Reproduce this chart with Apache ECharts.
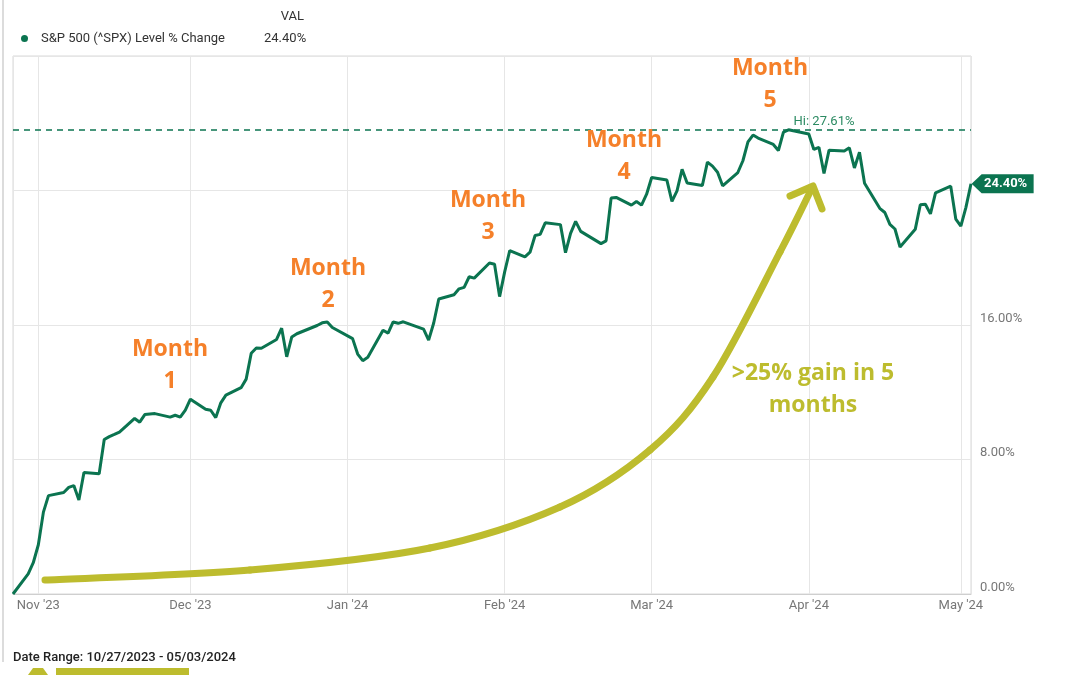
<!DOCTYPE html>
<html>
<head>
<meta charset="utf-8">
<script src="https://cdn.jsdelivr.net/npm/echarts@6/dist/echarts.min.js"></script>
<style>
  html, body { margin: 0; padding: 0; background: #fff; }
  #chart { width: 1080px; height: 675px; }
</style>
</head>
<body>
<div id="chart"></div>
<script>
// trading days, 10/27/2023 - 05/03/2024
const tradeDates = [
  "2023-10-27", "2023-10-30", "2023-10-31",
  "2023-11-01", "2023-11-02", "2023-11-03", "2023-11-06", "2023-11-07", "2023-11-08", "2023-11-09", "2023-11-10",
  "2023-11-13", "2023-11-14", "2023-11-15", "2023-11-16", "2023-11-17", "2023-11-20", "2023-11-21", "2023-11-22",
  "2023-11-24", "2023-11-27", "2023-11-28", "2023-11-29", "2023-11-30",
  "2023-12-01", "2023-12-04", "2023-12-05", "2023-12-06", "2023-12-07", "2023-12-08", "2023-12-11", "2023-12-12",
  "2023-12-13", "2023-12-14", "2023-12-15", "2023-12-18", "2023-12-19", "2023-12-20", "2023-12-21", "2023-12-22",
  "2023-12-26", "2023-12-27", "2023-12-28", "2023-12-29",
  "2024-01-02", "2024-01-03", "2024-01-04", "2024-01-05", "2024-01-08", "2024-01-09", "2024-01-10", "2024-01-11",
  "2024-01-12", "2024-01-16", "2024-01-17", "2024-01-18", "2024-01-19", "2024-01-22", "2024-01-23", "2024-01-24",
  "2024-01-25", "2024-01-26", "2024-01-29", "2024-01-30", "2024-01-31",
  "2024-02-01", "2024-02-02", "2024-02-05", "2024-02-06", "2024-02-07", "2024-02-08", "2024-02-09", "2024-02-12",
  "2024-02-13", "2024-02-14", "2024-02-15", "2024-02-16", "2024-02-20", "2024-02-21", "2024-02-22", "2024-02-23",
  "2024-02-26", "2024-02-27", "2024-02-28", "2024-02-29",
  "2024-03-01", "2024-03-04", "2024-03-05", "2024-03-06", "2024-03-07", "2024-03-08", "2024-03-11", "2024-03-12",
  "2024-03-13", "2024-03-14", "2024-03-15", "2024-03-18", "2024-03-19", "2024-03-20", "2024-03-21", "2024-03-22",
  "2024-03-25", "2024-03-26", "2024-03-27", "2024-03-28",
  "2024-04-01", "2024-04-02", "2024-04-03", "2024-04-04", "2024-04-05", "2024-04-08", "2024-04-09", "2024-04-10",
  "2024-04-11", "2024-04-12", "2024-04-15", "2024-04-16", "2024-04-17", "2024-04-18", "2024-04-19", "2024-04-22",
  "2024-04-23", "2024-04-24", "2024-04-25", "2024-04-26", "2024-04-29", "2024-04-30",
  "2024-05-01", "2024-05-02", "2024-05-03"
];

// S&P 500 level % change since 10/27/2023
const pctChange = [
  0, 1.20, 1.86,
  2.93, 4.87, 5.85, 6.04, 6.34, 6.45, 5.59, 7.23,
  7.15, 9.19, 9.36, 9.49, 9.63, 10.44, 10.22, 10.67,
  10.73, 10.52, 10.63, 10.52, 10.94,
  11.59, 10.99, 10.93, 10.49, 11.37, 11.83, 12.27, 12.78,
  14.32, 14.63, 14.62, 15.14, 15.81, 14.11, 15.29, 15.48,
  15.97, 16.13, 16.18, 15.85,
  15.19, 14.27, 13.88, 14.08, 15.69, 15.52, 16.18, 16.10,
  16.19, 15.75, 15.10, 16.12, 17.55, 17.80, 18.15, 18.24,
  18.87, 18.79, 19.69, 19.61, 17.69,
  19.16, 20.43, 20.05, 20.33, 21.32, 21.39, 22.08, 21.97,
  20.30, 21.45, 22.16, 21.57, 20.84, 21.00, 23.55, 23.59,
  23.13, 23.34, 23.13, 23.78,
  24.77, 24.62, 23.35, 23.98, 25.26, 24.44, 24.30, 25.69,
  25.45, 25.09, 24.28, 25.07, 25.77, 26.89, 27.30, 27.12,
  26.74, 26.38, 27.47, 27.61,
  27.36, 26.44, 26.57, 25.01, 26.40, 26.35, 26.54, 25.34,
  26.27, 24.43, 22.94, 22.69, 21.98, 21.71, 20.64, 21.69,
  23.15, 23.18, 22.61, 23.86, 24.26, 22.30,
  21.88, 23.00, 24.40
];

const yTicks = [0, 8, 16, 24, 32];
const monthAbbr = ["Jan", "Feb", "Mar", "Apr", "May", "Jun", "Jul", "Aug", "Sep", "Oct", "Nov", "Dec"];

const seriesName = "S&P 500 (^SPX) Level % Change";
const green = "#0b7450";
const orange = "#f5802a";
const olive = "#bdbc2e";
const lastVal = pctChange[pctChange.length - 1];

const chart = echarts.init(document.getElementById("chart"));

function monthNote(label, x, y) {
  return {
    type: "text",
    x: x,
    y: y,
    z: 10,
    style: {
      text: "Month\n" + label,
      font: "bold 23px 'Open Sans'",
      fill: orange,
      align: "center",
      verticalAlign: "middle",
      lineHeight: 32,
    },
  };
}

// hand drawn arrow: catmull-rom through the points, as bezier pieces
const arrowPts = [
  [45, 580], [250, 570], [430, 548], [560, 507], [650, 450],
  [713, 377], [780, 252], [811, 190],
];
function arrowPieces(pts) {
  const out = [];
  for (let i = 0; i < pts.length - 1; i++) {
    const p0 = pts[Math.max(i - 1, 0)];
    const p1 = pts[i];
    const p2 = pts[i + 1];
    const p3 = pts[Math.min(i + 2, pts.length - 1)];
    out.push({
      type: "bezierCurve",
      z: 8,
      shape: {
        x1: p1[0], y1: p1[1],
        x2: p2[0], y2: p2[1],
        cpx1: p1[0] + (p2[0] - p0[0]) / 6, cpy1: p1[1] + (p2[1] - p0[1]) / 6,
        cpx2: p2[0] - (p3[0] - p1[0]) / 6, cpy2: p2[1] - (p3[1] - p1[1]) / 6,
      },
      style: { stroke: olive, lineWidth: 7, lineCap: "round", fill: null },
    });
  }
  return out;
}

chart.setOption({
  animation: false,
  textStyle: { fontFamily: "Roboto" },
  grid: {
    left: 13,
    right: 109,
    top: 56,
    bottom: 81,
    show: true,
    borderColor: "#d9d9d9",
    borderWidth: 1,
  },
  legend: {
    left: 16,
    top: 27,
    icon: "circle",
    itemWidth: 7,
    itemHeight: 7,
    selectedMode: false,
    data: [seriesName],
    formatter: function (name) {
      return "{a|" + name + "}{b|" + lastVal.toFixed(2) + "%}";
    },
    textStyle: {
      rich: {
        a: { fontSize: 13, color: "#333", width: 223, padding: [0, 0, 0, 8], fontFamily: "Roboto" },
        b: { fontSize: 13, color: "#333", fontFamily: "Roboto" },
      },
    },
  },
  xAxis: {
    type: "time",
    min: tradeDates[0],
    max: tradeDates[tradeDates.length - 1],
    splitNumber: 7,
    axisLine: { show: true, lineStyle: { color: "#cfcfcf", width: 1 } },
    axisTick: { show: false },
    splitLine: { show: true, lineStyle: { color: "#e6e6e6" } },
    axisLabel: {
      color: "#777",
      fontSize: 13,
      margin: 5,
      formatter: function (v) {
        const d = new Date(v);
        return monthAbbr[d.getMonth()] + " '" + String(d.getFullYear()).slice(2);
      },
    },
  },
  yAxis: {
    type: "value",
    position: "right",
    min: yTicks[0],
    max: yTicks[yTicks.length - 1],
    interval: yTicks[1] - yTicks[0],
    axisLine: { show: false },
    axisTick: { show: false },
    splitLine: { show: true, lineStyle: { color: "#e6e6e6" } },
    axisLabel: {
      color: "#777",
      fontSize: 13,
      margin: 9,
      verticalAlign: "bottom",
      showMaxLabel: false,
      formatter: function (v) {
        return v.toFixed(2) + "%";
      },
    },
  },
  series: [
    {
      name: seriesName,
      type: "line",
      color: green,
      symbol: "none",
      z: 5,
      lineStyle: { color: green, width: 3 },
      data: tradeDates.map(function (d, i) {
        return [d, pctChange[i]];
      }),
      markLine: {
        silent: true,
        symbol: "none",
        label: { show: false },
        lineStyle: { color: green, type: [6, 5], width: 1.5 },
        data: [{ type: "max" }],
      },
      markPoint: {
        silent: true,
        z: 20,
        data: [
          {
            type: "max",
            symbolSize: 0,
            label: {
              show: true,
              position: [5, -15],
              align: "left",
              formatter: function (p) {
                return "Hi: " + p.value.toFixed(2) + "%";
              },
              color: "#2b8a62",
              fontSize: 13,
            },
          },
          {
            coord: [tradeDates[tradeDates.length - 1], lastVal],
            value: lastVal,
            symbol: "path://M0,10 L10,0 L62,0 L62,20 L10,20 Z",
            symbolSize: [62, 19],
            symbolKeepAspect: false,
            symbolOffset: ["51%", 0],
            itemStyle: { color: green },
            label: {
              show: true,
              position: "inside",
              offset: [3, 0],
              formatter: function (p) {
                return p.value.toFixed(2) + "%";
              },
              color: "#fff",
              fontWeight: "bold",
              fontSize: 13,
            },
          },
        ],
      },
    },
  ],
  graphic: [
    // frame line on the left
    { type: "line", shape: { x1: 3, y1: 0, x2: 3, y2: 662 }, style: { stroke: "#dcdcdc", lineWidth: 2 } },
    {
      type: "text",
      x: 304,
      y: 17,
      style: { text: "VAL", font: "13px Roboto", fill: "#333", align: "right", verticalAlign: "middle" },
    },
    {
      type: "text",
      x: 13,
      y: 658,
      style: { text: "Date Range: 10/27/2023 - 05/03/2024", font: "500 13px Roboto", fill: "#222", verticalAlign: "middle" },
    },
    monthNote("1", 170, 365),
    monthNote("2", 328, 284),
    monthNote("3", 488, 216),
    monthNote("4", 624, 156),
    monthNote("5", 770, 84),
    {
      type: "text",
      x: 813,
      y: 389,
      z: 10,
      style: {
        text: ">25% gain in 5\nmonths",
        font: "bold 23px 'Open Sans'",
        fill: olive,
        align: "center",
        verticalAlign: "middle",
        lineHeight: 32,
      },
    },
    ...arrowPieces(arrowPts),
    {
      type: "polyline",
      z: 8,
      shape: { points: [[790, 196], [813, 186], [822, 209]] },
      style: { stroke: olive, lineWidth: 7, lineCap: "round", lineJoin: "round", fill: null },
    },
    // cut-off annotation at the bottom edge
    {
      type: "polygon",
      shape: { points: [[28, 675], [33, 668], [43, 668], [48, 675]] },
      style: { fill: olive },
    },
    { type: "rect", shape: { x: 56, y: 668, width: 133, height: 7 }, style: { fill: olive } },
  ],
});
</script>
</body>
</html>
